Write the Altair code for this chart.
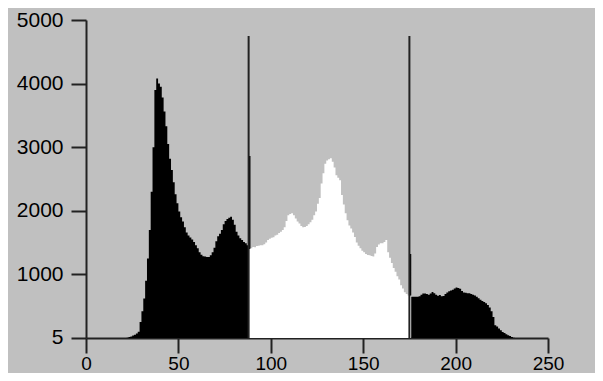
import altair as alt
import pandas as pd

# Histogram counts per intensity bin 0..255
counts = (
    [0] * 22 +
    [5, 15, 25, 40, 50, 70, 100, 250, 420, 620,            # 22-31
     900, 1250, 1700, 2300, 3000, 3900, 4080, 4000, 3950, 3780,  # 32-41
     3560, 3330, 3050, 2820, 2640, 2450, 2260, 2120, 1990, 1900,  # 42-51
     1830, 1740, 1660, 1610, 1580, 1550, 1510, 1460, 1410, 1350,  # 52-61
     1310, 1285, 1280, 1275, 1275, 1300, 1350, 1420, 1520, 1600,  # 62-71
     1640, 1700, 1790, 1840, 1870, 1890, 1905, 1860, 1780, 1670,  # 72-81
     1610, 1570, 1540, 1510, 1490, 1460, 1400, 1410, 1430, 1425,  # 82-91
     1445, 1450, 1460, 1460, 1475, 1500, 1540, 1560, 1575, 1585,  # 92-101
     1610, 1625, 1650, 1670, 1700, 1740, 1840, 1930, 1950, 1960,  # 102-111
     1930, 1880, 1830, 1800, 1760, 1740, 1745, 1760, 1790, 1820,  # 112-121
     1860, 1930, 1990, 2110, 2200, 2430, 2590, 2740, 2790, 2810,  # 122-131
     2825, 2770, 2680, 2560, 2520, 2480, 2250, 2100, 1960, 1850,  # 132-141
     1770, 1720, 1660, 1590, 1500, 1450, 1410, 1370, 1350, 1320,  # 142-151
     1305, 1300, 1290, 1280, 1330, 1430, 1470, 1490, 1490, 1510,  # 152-161
     1540, 1350, 1260, 1180, 1100, 1040, 970, 920, 830, 780,      # 162-171
     720, 690, 670, 650, 650, 650, 650, 650, 655, 680,            # 172-181
     700, 700, 690, 680, 700, 725, 705, 680, 665, 675,            # 182-191
     655, 660, 690, 715, 735, 745, 760, 780, 795, 785,            # 192-201
     775, 740, 715, 710, 705, 705, 690, 680, 670, 650,            # 202-211
     625, 600, 580, 565, 545, 520, 480, 420, 330, 200,            # 212-221
     180, 150, 120, 95, 80, 60, 45, 30, 15, 5] +                  # 222-231
    [0] * 24
)

thresholds = [88, 175]
threshold_top = 4750
segment_names = ["low", "mid", "high"]
segment_colors = ["#000000", "#ffffff", "#000000"]
y_ticks = [5, 1000, 2000, 3000, 4000, 5000]
x_ticks = [0, 50, 100, 150, 200, 250]

bounds = [0] + thresholds + [len(counts)]
rows = []
for k, name in enumerate(segment_names):
    a, b = bounds[k], bounds[k + 1]
    for i in range(a, b):
        rows.append({"x": i, "v": counts[i], "seg": name})
    rows.append({"x": b, "v": counts[b - 1], "seg": name})
hist = pd.DataFrame(rows)

lines = pd.DataFrame({"x": thresholds, "y0": [0] * len(thresholds),
                      "y1": [threshold_top] * len(thresholds)})

axis_common = dict(
    tickSize=15, tickWidth=2, domainWidth=2,
    domainColor="#222222", tickColor="#222222",
    labelFont="Liberation Sans", labelColor="#000000",
    grid=False, title=None, labelFlush=False, labelOverlap=False, format="d",
)

x_scale = alt.Scale(domain=[0, 250], nice=False, zero=False)
y_scale = alt.Scale(domain=[0, 5000], nice=False)

area = alt.Chart(hist).mark_area(interpolate="step-after", clip=True).encode(
    x=alt.X("x:Q", scale=x_scale,
            axis=alt.Axis(values=x_ticks, labelPadding=1, labelFontSize=19,
                          **axis_common)),
    y=alt.Y("v:Q", scale=y_scale,
            axis=alt.Axis(values=y_ticks, labelPadding=8, labelFontSize=21,
                          **axis_common)),
    color=alt.Color("seg:N", scale=alt.Scale(domain=segment_names, range=segment_colors),
                    legend=None),
    detail="seg:N",
)

rules = alt.Chart(lines).mark_rule(color="#222222", strokeWidth=2).encode(
    x=alt.X("x:Q", scale=x_scale),
    y=alt.Y("y0:Q", scale=y_scale),
    y2="y1:Q",
)

chart = (area + rules).properties(
    width=462, height=318,
    autosize=alt.AutoSizeParams(type="none"),
    padding={"left": 78, "top": 12, "right": 47, "bottom": 35},
    background="#c0c0c0",
).configure_view(stroke=None)

chart.save("out.html", embed_options={"renderer": "svg", "actions": False})
